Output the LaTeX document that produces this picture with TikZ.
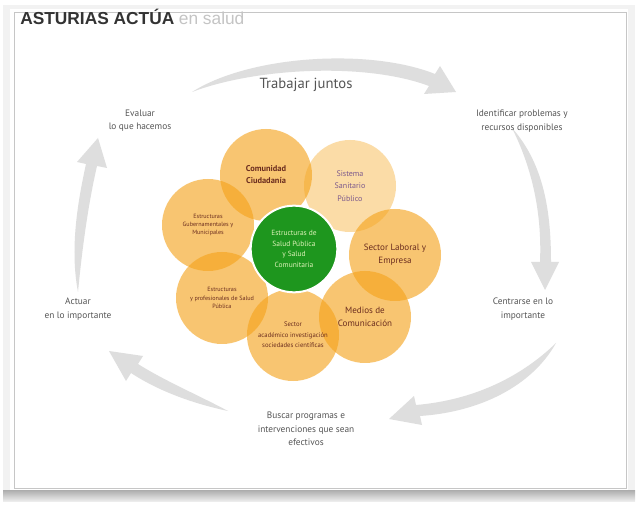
\documentclass[tikz,border=0pt]{standalone}
\usepackage{fontspec}
\setmainfont{PT Sans}
\newfontfamily\titlefont{Liberation Sans}
\usetikzlibrary{shadings}
\definecolor{petalor}{HTML}{F5A31A}
\definecolor{petaltxt}{HTML}{6B2D1F}
\definecolor{sistxt}{HTML}{7D5A8C}
\definecolor{greenc}{HTML}{1E961E}
\definecolor{greentxt}{HTML}{DDF2B8}
\definecolor{arrowg}{HTML}{DEDEDE}
\definecolor{labtxt}{HTML}{555555}
\definecolor{titletxt}{HTML}{333333}
\definecolor{titlelight}{HTML}{C4C4C4}
\tikzset{
  petal/.style={circle, minimum size=69pt, inner sep=0pt, fill=petalor, fill opacity=0.62, text opacity=1, align=center, text=petaltxt},
  petallight/.style={petal, fill opacity=0.38},
  hub/.style={circle, minimum size=65pt, inner sep=0pt, fill=greenc, draw=white, line width=1.5pt, align=center, text=greentxt},
  cyclelab/.style={align=center, text=labtxt, font=\fontsize{7}{10}\selectfont},
  cyclearrow/.style={fill=arrowg},
}
\begin{document}
\begin{tikzpicture}[x=0.75pt,y=-0.75pt]
\useasboundingbox (0,0) rectangle (638,505);
% frame
\fill[gray!10] (3,5) rectangle (635,492);
\shade[top color=gray!65, bottom color=gray!15] (3,490) rectangle (635,501);
\fill[white] (10,9) rectangle (628,490);
\draw[gray!45, line width=0.6pt] (14,12) rectangle (626,488);
% title
\node[anchor=base west, inner sep=0pt, font=\titlefont\bfseries\fontsize{13}{15}\selectfont, text=titletxt] (title) at (20,25) {ASTURIAS ACTÚA};
\node[anchor=base west, inner sep=0pt, font=\titlefont\fontsize{13}{15}\selectfont, text=titlelight] (subtitle) at ([xshift=3pt]title.base east) {en salud};
% cycle arrows
\coordinate (a1s) at (192,92);
\fill[cyclearrow] (a1s) .. controls (250,55) and (370,48) .. (435,74) -- (440,66) -- (456,92) -- (424,94) -- (429,86) .. controls (365,62) and (255,68) .. (a1s) -- cycle;
\coordinate (a2s) at (512,128);
\fill[cyclearrow] (a2s) .. controls (545,165) and (551,215) .. (551,262) -- (559,262) -- (545,290) -- (531,262) -- (540,262) .. controls (542,215) and (533,170) .. (a2s) -- cycle;
\coordinate (a3s) at (556,343);
\fill[cyclearrow] (a3s) .. controls (532,386) and (480,412) .. (420,416) -- (422,425) -- (389,419) -- (414,396) -- (416,405) .. controls (475,400) and (522,376) .. (a3s) -- cycle;
\coordinate (a4s) at (228,411);
\fill[cyclearrow] (a4s) .. controls (195,404) and (160,392) .. (131,373) -- (126,381) -- (109,351) -- (143,356) -- (138,364) .. controls (165,381) and (198,395) .. (a4s) -- cycle;
\coordinate (a5s) at (78,292);
\fill[cyclearrow] (a5s) .. controls (70,250) and (77,205) .. (86,164) -- (77,162) -- (98,138) -- (107,168) -- (97,166) .. controls (88,205) and (82,250) .. (a5s) -- cycle;
% cycle labels
\node[align=center, text=labtxt, font=\fontsize{11}{13}\selectfont] (trabajar) at (306,85) {Trabajar juntos};
\node[cyclelab] (evaluar) at (140,121) {Evaluar\\lo que hacemos};
\node[cyclelab] (identificar) at (522,121) {Identificar problemas y\\recursos disponibles};
\node[cyclelab] (centrarse) at (523,309) {Centrarse en lo\\importante};
\node[cyclelab] (buscar) at (306,429) {Buscar programas e\\intervenciones que sean\\efectivos};
\node[cyclelab] (actuar) at (78,309) {Actuar\\en lo importante};
% petals
\node[petal, font=\bfseries\fontsize{6.3}{9}\selectfont] (comunidad) at (266,175) {Comunidad\\Ciudadanía};
\node[petallight, text=sistxt, font=\fontsize{6}{9.5}\selectfont] (sistema) at (350,186) {Sistema\\Sanitario\\Público};
\node[petal, font=\fontsize{4.6}{6}\selectfont] (gubern) at (208,225) {Estructuras\\Gubernamentales y\\Municipales};
\node[petal, font=\fontsize{6.8}{9.5}\selectfont] (laboral) at (395,255) {Sector Laboral y\\Empresa};
\node[petal, font=\fontsize{4.6}{6.5}\selectfont] (profes) at (222,298) {Estructuras\\y profesionales de Salud\\Pública};
\node[petal, font=\fontsize{6.8}{9.5}\selectfont] (medios) at (365,317) {Medios de\\Comunicación};
\node[petal, font=\fontsize{5}{8}\selectfont] (academico) at (293,335) {Sector\\académico investigación\\sociedades científicas};
% hub
\node[hub, font=\fontsize{5.6}{8}\selectfont] (hub) at (294,249) {Estructuras de\\Salud Pública\\y Salud\\Comunitaria};
\end{tikzpicture}
\end{document}
